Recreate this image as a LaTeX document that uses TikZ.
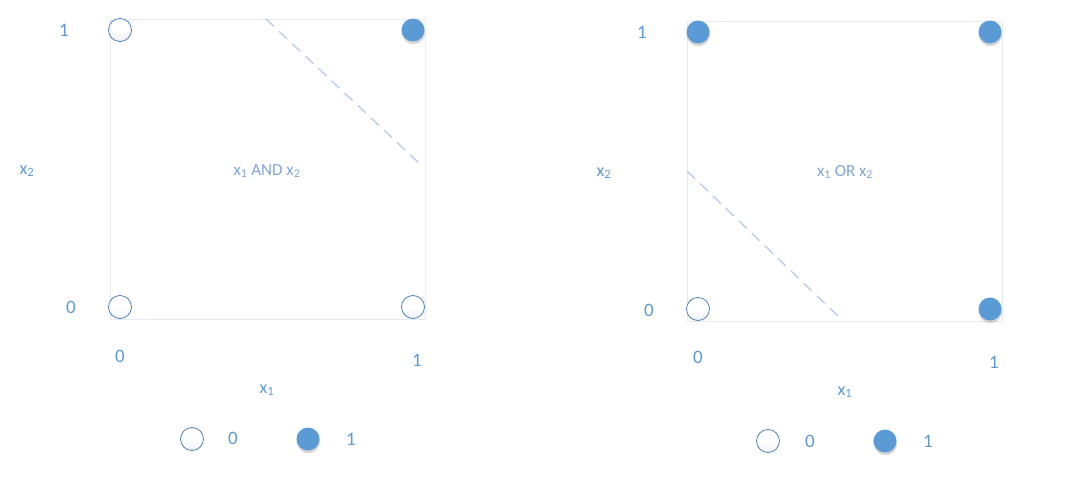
\documentclass[tikz,border=0pt]{standalone}
\usepackage{fontspec}
\setmainfont{Carlito}
\usetikzlibrary{shadows}
\definecolor{lab}{HTML}{5B9BD5}
\definecolor{inlab}{HTML}{7FA6D6}
\definecolor{dotfill}{HTML}{5B9BD5}
\definecolor{dotline}{HTML}{4F81B8}
\definecolor{frame}{HTML}{E6EAF2}
\definecolor{grad}{HTML}{EEF1F7}
\definecolor{sep}{HTML}{B4C7E7}
\tikzset{
  opendot/.style={circle, minimum size=23pt, inner sep=0pt, draw=dotline, line width=0.8pt, top color=white, bottom color=grad, middle color=white},
  fulldot/.style={circle, minimum size=23pt, inner sep=0pt, fill=dotfill, draw=none, circular drop shadow={shadow xshift=0pt, shadow yshift=-2pt, shadow scale=1.08, opacity=0.35}},
  num/.style={text=lab, font=\fontsize{19}{22}\selectfont, inner sep=0pt},
  axl/.style={text=lab, font=\fontsize{18}{21}\selectfont, inner sep=0pt},
  inl/.style={text=inlab, font=\fontsize{17}{20}\selectfont, inner sep=0pt},
  box/.style={draw=frame, line width=0.8pt},
  sepline/.style={draw=sep, line width=1.2pt, dash pattern=on 11pt off 7pt},
}
\begin{document}
\begin{tikzpicture}[x=1pt,y=-1pt]
\useasboundingbox (0,0) rectangle (1075,494);
% ---------- left panel (AND)
\draw[box] (110,19) rectangle (425,319);
\coordinate (la) at (266,19);
\coordinate (lb) at (421,165);
\draw[sepline] (la) -- (lb);
\node[opendot] (l00) at (120,307) {};
\node[opendot] (l01) at (120,30) {};
\node[opendot] (l10) at (413,307) {};
\node[fulldot] (l11) at (413,30) {};
\node[num] (ly1) at (64,30) {1};
\node[num] (ly0) at (71,307) {0};
\node[num] (lx0) at (120,356) {0};
\node[num] (lx1) at (417,360) {1};
\node[axl] (lx2) at (27,171) {x\textsubscript{2}};
\node[axl] (lxa) at (267,390) {x\textsubscript{1}};
\node[inl] (ltitle) at (267,171) {x\textsubscript{1} AND x\textsubscript{2}};
\node[opendot] (lleg0) at (192,439) {};
\node[num] (llegt0) at (233,438) {0};
\node[fulldot] (lleg1) at (308,439) {};
\node[num] (llegt1) at (351,439) {1};
% ---------- right panel (OR)
\draw[box] (687,21) rectangle (1002,321);
\coordinate (ra) at (687,171);
\coordinate (rb) at (840,318);
\draw[sepline] (ra) -- (rb);
\node[opendot] (r00) at (698,309) {};
\node[fulldot] (r01) at (698,32) {};
\node[fulldot] (r10) at (990,309) {};
\node[fulldot] (r11) at (990,32) {};
\node[num] (ry1) at (642,32) {1};
\node[num] (ry0) at (649,310) {0};
\node[num] (rx0) at (698,357) {0};
\node[num] (rx1) at (994,362) {1};
\node[axl] (rx2) at (604,173) {x\textsubscript{2}};
\node[axl] (rxa) at (845,392) {x\textsubscript{1}};
\node[inl] (rtitle) at (845,172) {x\textsubscript{1} OR x\textsubscript{2}};
\node[opendot] (rleg0) at (768,441) {};
\node[num] (rlegt0) at (810,441) {0};
\node[fulldot] (rleg1) at (885,441) {};
\node[num] (rlegt1) at (928,441) {1};
\end{tikzpicture}
\end{document}
